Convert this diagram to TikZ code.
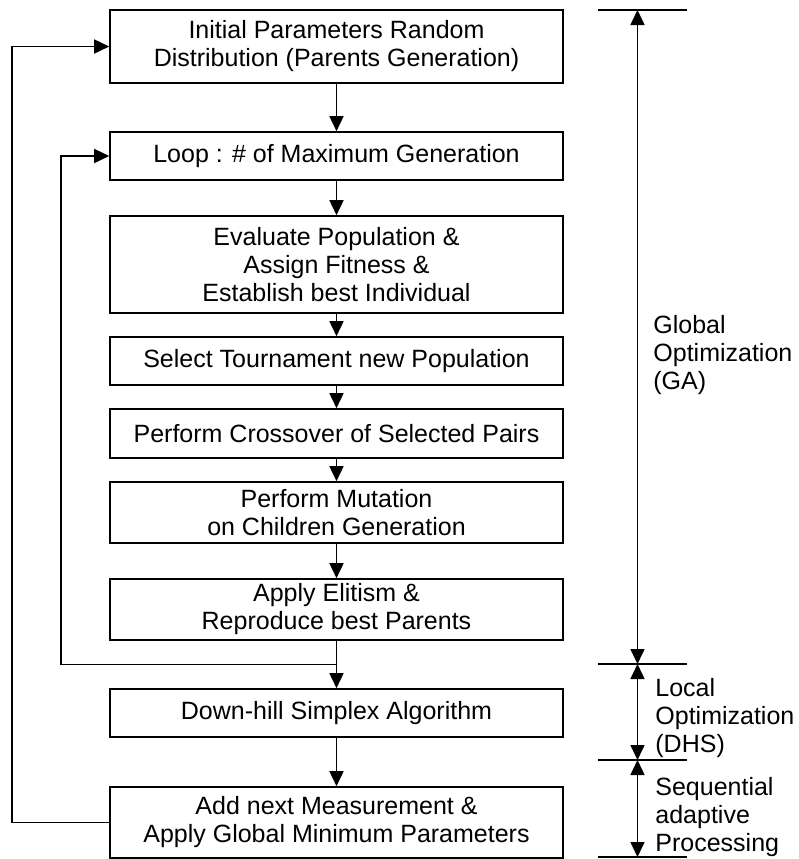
\documentclass[tikz,border=0pt]{standalone}
\usepackage{fontspec}
\setmainfont{Liberation Sans}
\usetikzlibrary{shapes,arrows,arrows.meta,calc,fit}
\tikzstyle{block} = [rectangle, draw, line width=0.8pt, minimum width=226.5pt,
    align=center, inner sep=2pt, font=\fontsize{12.5}{14}\selectfont]
\tikzstyle{line} = [draw, line width=0.8pt, -{Triangle[length=7.5pt,width=7pt]}]
\tikzstyle{span} = [draw, line width=0.8pt,
    {Triangle[length=7.5pt,width=7pt]}-{Triangle[length=7.5pt,width=7pt]}]
\tikzstyle{tick} = [draw, line width=0.8pt]
\tikzstyle{note} = [anchor=west, align=left, inner sep=0pt,
    font=\fontsize{12.5}{14}\selectfont]

\begin{document}
\begin{tikzpicture}[node distance = 2cm, auto]
    \useasboundingbox (0,0) rectangle (399.5pt,-429.5pt);
    % Place nodes
    \node [block, minimum height=36.5pt] (init) at (168.25pt,-23.25pt) {Initial Parameters Random\\Distribution (Parents Generation)};
    \node [block, below of=init, node distance=54.75pt, minimum height=24pt] (loop) {Loop : \# of Maximum Generation};
    \node [block, below of=loop, node distance=54.25pt, minimum height=48.5pt] (eval) {Evaluate Population \&\\Assign Fitness \&\\Establish best Individual};
    \node [block, below of=eval, node distance=48.25pt, minimum height=24pt] (select) {Select Tournament new Population};
    \node [block, below of=select, node distance=36.25pt, minimum height=24.5pt] (cross) {Perform Crossover of Selected Pairs};
    \node [block, below of=cross, node distance=39.5pt, minimum height=30.5pt] (mutate) {Perform Mutation\\on Children Generation};
    \node [block, below of=mutate, node distance=48.5pt, minimum height=30.5pt] (elite) {Apply Elitism \&\\Reproduce best Parents};
    \node [block, below of=elite, node distance=51.75pt, minimum height=24pt] (dhs) {Down-hill Simplex Algorithm};
    \node [block, below of=dhs, node distance=54.75pt, minimum height=35.5pt] (measure) {Add next Measurement \&\\Apply Global Minimum Parameters};
    \coordinate (split) at ($(elite.south)!0.5!(dhs.north)$);
    \coordinate (outer) at (6pt,0);
    \coordinate (inner) at (30.5pt,0);
    % Range marks on the right
    \coordinate (r1) at (318.75pt,-5pt);
    \coordinate (r2) at (318.75pt,-332pt);
    \coordinate (r3) at (318.75pt,-380pt);
    \coordinate (r4) at (318.75pt,-428.5pt);
    \node [note] (ga) at (326.5pt,-177.5pt) {Global\\Optimization\\(GA)};
    \node [note] (local) at (327.5pt,-359pt) {Local\\Optimization\\(DHS)};
    \node [note] (seq) at (327.5pt,-408.5pt) {Sequential\\adaptive\\Processing};
    % Draw edges
    \path [line] (init) -- (loop);
    \path [line] (loop) -- (eval);
    \path [line] (eval) -- (select);
    \path [line] (select) -- (cross);
    \path [line] (cross) -- (mutate);
    \path [line] (mutate) -- (elite);
    \path [line] (elite) -- (dhs);
    \path [line] (dhs) -- (measure);
    \path [line] (split) -- (split -| inner) |- (loop.west);
    \path [line] (measure.west) -- (measure.west -| outer) |- (init.west);
    % Draw ranges
    \foreach \r in {r1,r2,r3,r4}
        \path [tick] ([xshift=-19.75pt]\r) -- ([xshift=24.75pt]\r);
    \path [span] (r1) -- (r2);
    \path [span] (r2) -- (r3);
    \path [span] (r3) -- (r4);
\end{tikzpicture}
\end{document}
